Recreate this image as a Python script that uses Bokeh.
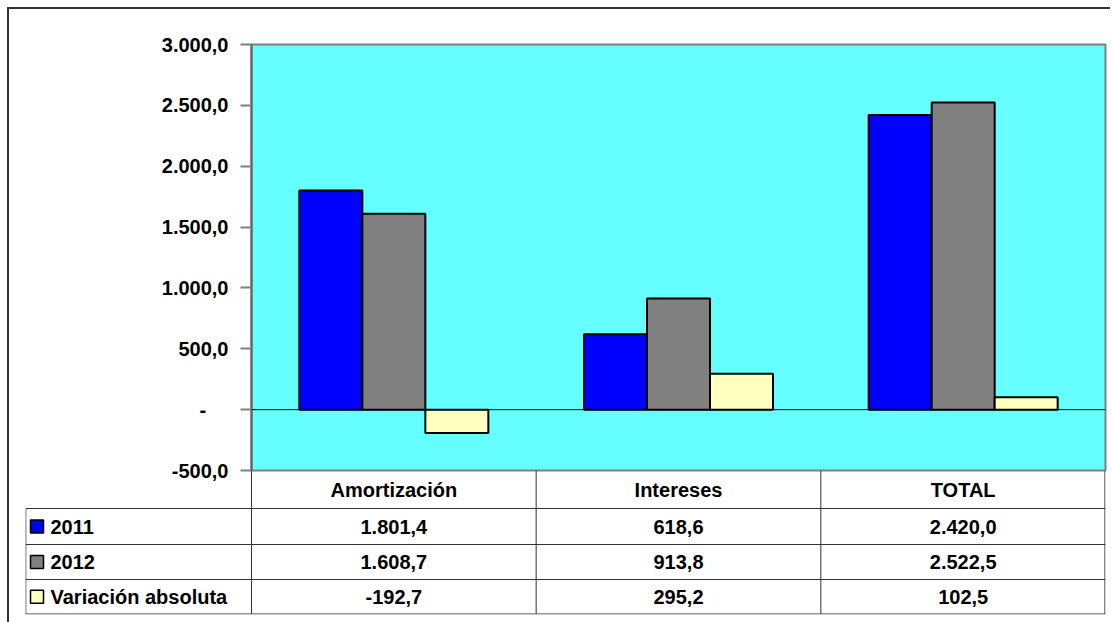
from bokeh.plotting import figure
from bokeh.models import Range1d, FixedTicker, Span
from bokeh.core.properties import value
from bokeh.embed import file_html
from bokeh.resources import INLINE

# ---- data ----
categories = ["Amortización", "Intereses", "TOTAL"]
series_names = ["2011", "2012", "Variación absoluta"]
values_2011 = [1801.4, 618.6, 2420.0]
values_2012 = [1608.7, 913.8, 2522.5]
values_var = [-192.7, 295.2, 102.5]
colors = ["#0000FF", "#808080", "#FFFFC0"]
y_ticks = [-500, 0, 500, 1000, 1500, 2000, 2500, 3000]

series = [values_2011, values_2012, values_var]

def es(v):
    s = f"{v:,.1f}"
    return s.replace(",", "X").replace(".", ",").replace("X", ".")

FONT = value("Liberation Sans")
FS = "20px"

# ---- layout constants (pixels) ----
ORG = 9                      # content origin
RIGHT_PAD = 7
W = 1112 - ORG
FRAME_R = 1105
TOP_PAD_B = 12
TOP_H = 470 - ORG + TOP_PAD_B
BOT_H = 152
PLOT_L = 251 - ORG
n = len(categories)
unit = (FRAME_R - 251) / n          # pixels per category
bar_w = 63 / unit

frame_css = "-2px -2px 0 0 #333333, -2px 0 0 0 #333333"

# ---- chart ----
p = figure(width=W, height=TOP_H, output_backend="svg", toolbar_location=None,
           x_range=Range1d(0, n), y_range=Range1d(-500, 3000),
           x_axis_location=None, min_border_left=PLOT_L, min_border_right=W - (FRAME_R - ORG),
           min_border_top=44 - ORG, min_border_bottom=TOP_PAD_B,
           styles={"margin-left": f"{ORG}px", "margin-top": f"{ORG}px",
                   "box-shadow": frame_css})
p.background_fill_color = "#66FFFF"
p.border_fill_color = "white"
p.outline_line_color = "#808080"
p.outline_line_width = 2
p.xgrid.visible = False
p.ygrid.visible = False

ya = p.yaxis[0]
ya.ticker = FixedTicker(ticks=y_ticks)
ya.major_label_overrides = {t: (es(t) if t != 0 else "-\u00a0\u00a0\u00a0\u00a0") for t in y_ticks}
ya.major_label_text_font = "Liberation Sans"
ya.major_label_text_font_style = "bold"
ya.major_label_text_font_size = FS
ya.major_label_text_color = "black"
ya.major_tick_out = 11
ya.major_tick_in = 0
ya.minor_tick_out = 0
ya.minor_tick_in = 0
ya.major_tick_line_color = "#808080"
ya.major_tick_line_width = 2
ya.axis_line_color = "#606060"
ya.axis_line_width = 2
ya.major_label_standoff = 12

for i, (vals, col) in enumerate(zip(series, colors)):
    xs = [k + 0.5 + (i - 1) * bar_w for k in range(n)]
    p.vbar(x=xs, top=vals, bottom=0, width=bar_w, fill_color=col,
           line_color="black", line_width=2)

p.add_layout(Span(location=0, dimension="width", line_color="black", line_width=1))

# ---- data table ----
TAB_L = 25 - ORG
x0 = -(251 - 25) / unit
TAB_H = 144
t = figure(width=W, height=BOT_H, output_backend="svg", toolbar_location=None,
           x_range=Range1d(x0, n), y_range=Range1d(TAB_H, 0),
           x_axis_location=None, y_axis_location=None,
           min_border_left=TAB_L, min_border_right=W - (FRAME_R - ORG),
           min_border_top=0, min_border_bottom=BOT_H - TAB_H,
           styles={"margin-left": f"{ORG}px", "margin-top": f"-{TOP_PAD_B}px",
                   "box-shadow": "-2px 0 0 0 #333333"})
t.outline_line_color = None
t.background_fill_alpha = 0
t.border_fill_alpha = 0
t.xgrid.visible = False
t.ygrid.visible = False

edges = [0, 38, 74, 109, 143.5]
line_col = "#333333"
# horizontal lines
t.segment(x0=[x0 + 0.001] * 4, x1=[n] * 4, y0=edges[1:], y1=edges[1:],
          line_color=line_col, line_width=1)
# vertical lines
vx = [x0 + 0.001] + [k for k in range(n)] + [n - 0.002]
vy0 = [edges[1]] + [0] * (n + 1)
t.segment(x0=vx, x1=vx, y0=vy0, y1=[edges[-1]] * len(vx),
          line_color=line_col, line_width=1)

centers = [k + 0.5 for k in range(n)]
# header
t.text(x=centers, y=[(edges[0] + edges[1]) / 2] * n, text=categories,
       text_align="center", text_baseline="middle", text_font=FONT,
       text_font_style="bold", text_font_size=FS, text_color="black")
# rows
for i, (vals, col, name) in enumerate(zip(series, colors, series_names)):
    yc = (edges[i + 1] + edges[i + 2]) / 2
    t.text(x=centers, y=[yc] * n, text=[es(v) for v in vals],
           text_align="center", text_baseline="middle", text_font=FONT,
           text_font_style="bold", text_font_size=FS, text_color="black")
    t.rect(x=[x0 + 11.5 / unit], y=[yc], width=13, height=13,
           width_units="screen", height_units="screen",
           fill_color=col, line_color="black", line_width=1.5)
    t.text(x=[x0 + 25 / unit], y=[yc], text=[name],
           text_align="left", text_baseline="middle", text_font=FONT,
           text_font_style="bold", text_font_size=FS, text_color="black")

open("out.html", "w").write(file_html([p, t], INLINE))
